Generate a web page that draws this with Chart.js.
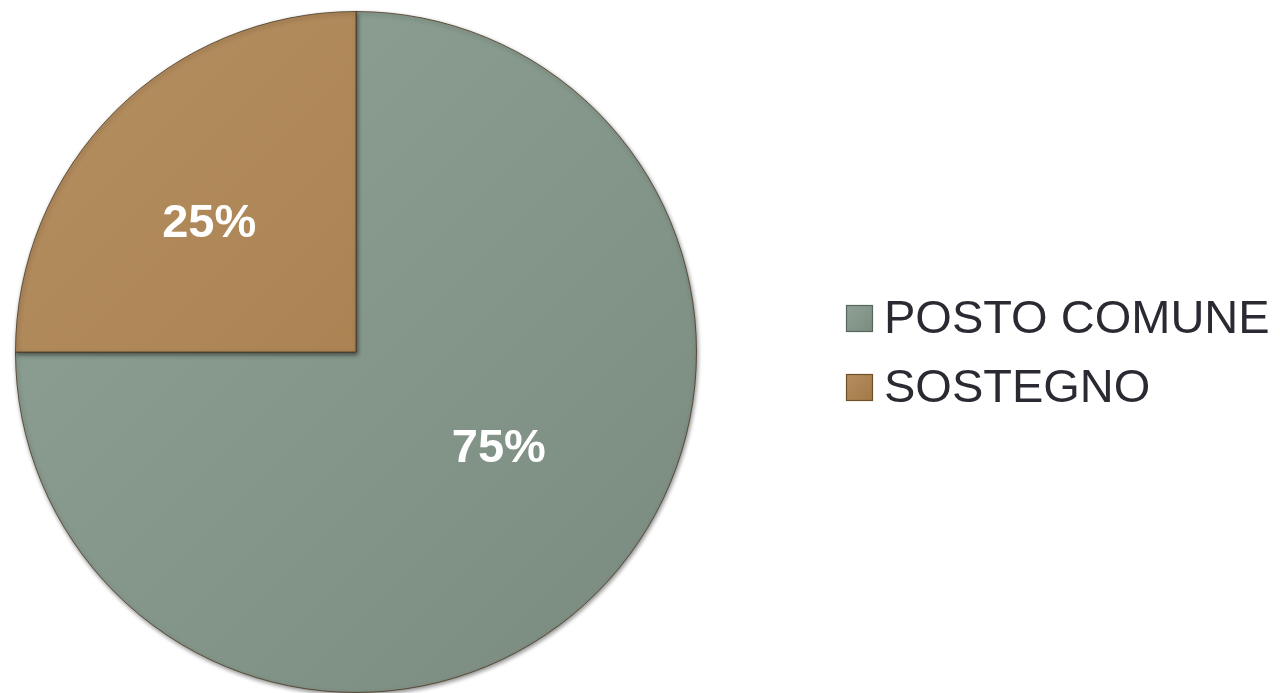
<!DOCTYPE html>
<html>
<head>
<meta charset="utf-8">
<script src="https://cdn.jsdelivr.net/npm/chart.js@4/dist/chart.umd.min.js"></script>
<style>
  html, body { margin: 0; padding: 0; background: #fff; }
  #wrap { width: 1280px; height: 693px; position: relative; }
</style>
</head>
<body>
<div id="wrap"><canvas id="pieChart"></canvas></div>
<script>
// data
var categories = ["POSTO COMUNE", "SOSTEGNO"];
var shares = [75, 25];
var percentLabels = ["75%", "25%"];

// colours: [light side, dark side]
var sliceColors = [["#90a397", "#7a8a7e"], ["#b58f61", "#a27846"]];
var legendBorders = ["#55665b", "#6f4f29"];

// label placement inside each slice (fraction of radius, angle shift in degrees)
var labelRadius = [0.50, 0.58];
var labelTurn = [-12, -3];

function sliceFill(context) {
  var chart = context.chart;
  var area = chart.chartArea;
  var i = context.dataIndex;
  if (!area) return sliceColors[i][0];
  var g = chart.ctx.createLinearGradient(area.left, area.top, area.right, area.bottom);
  g.addColorStop(0, sliceColors[i][0]);
  g.addColorStop(1, sliceColors[i][1]);
  return g;
}

var pieShadow = {
  id: 'pieShadow',
  beforeDatasetsDraw: function(chart) {
    var ctx = chart.ctx;
    ctx.save();
    ctx.shadowColor = 'rgba(0,0,0,0.45)';
    ctx.shadowBlur = 4;
    ctx.shadowOffsetX = 1;
    ctx.shadowOffsetY = 2;
  },
  afterDatasetsDraw: function(chart) {
    chart.ctx.restore();
  }
};

var sliceLabels = {
  id: 'sliceLabels',
  afterDatasetsDraw: function(chart) {
    var ctx = chart.ctx;
    var meta = chart.getDatasetMeta(0);
    ctx.save();
    ctx.fillStyle = '#ffffff';
    ctx.font = 'bold 47px "Liberation Sans", Arial, sans-serif';
    ctx.textAlign = 'center';
    ctx.textBaseline = 'alphabetic';
    meta.data.forEach(function(arc, i) {
      var p = arc.getProps(['x', 'y', 'startAngle', 'endAngle', 'outerRadius'], true);
      var a = (p.startAngle + p.endAngle) / 2 + labelTurn[i] * Math.PI / 180;
      var r = p.outerRadius * labelRadius[i];
      var x = p.x + Math.cos(a) * r;
      var y = p.y + Math.sin(a) * r;
      ctx.fillText(percentLabels[i], x, y + 47 * 0.36);
    });
    ctx.restore();
  }
};

var sideLegend = {
  id: 'sideLegend',
  afterDraw: function(chart) {
    var ctx = chart.ctx;
    var area = chart.chartArea;
    var left = area.right + 149;
    var rowGap = 69;
    var firstBase = 333;
    ctx.save();
    ctx.font = '47px "Liberation Sans", Arial, sans-serif';
    ctx.textBaseline = 'alphabetic';
    ctx.textAlign = 'left';
    chart.data.labels.forEach(function(lab, i) {
      var base = firstBase + i * rowGap;
      var g = ctx.createLinearGradient(left, base - 28, left + 27, base - 1);
      g.addColorStop(0, sliceColors[i][0]);
      g.addColorStop(1, sliceColors[i][1]);
      ctx.fillStyle = g;
      ctx.fillRect(left, base - 28, 27, 27);
      ctx.strokeStyle = legendBorders[i];
      ctx.lineWidth = 1.2;
      ctx.strokeRect(left + 0.5, base - 27.5, 26, 26);
      ctx.fillStyle = '#2a2a33';
      ctx.fillText(lab, left + 38, base);
    });
    ctx.restore();
  }
};

var ctxP = document.getElementById("pieChart").getContext('2d');
var myPieChart = new Chart(ctxP, {
  type: 'pie',
  data: {
    labels: categories,
    datasets: [{
      data: shares,
      backgroundColor: sliceFill,
      borderColor: 'rgba(80,62,40,0.85)',
      borderWidth: 1
    }]
  },
  options: {
    responsive: true,
    maintainAspectRatio: false,
    animation: false,
    layout: { padding: { left: 15, right: 583, top: 11, bottom: 0 } },
    plugins: {
      legend: { display: false },
      tooltip: { enabled: false }
    }
  },
  plugins: [pieShadow, sliceLabels, sideLegend]
});
</script>
</body>
</html>
